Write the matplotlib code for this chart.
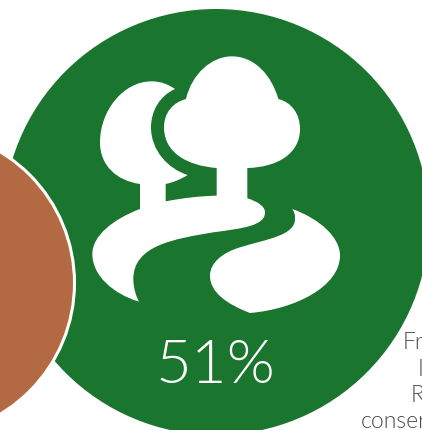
import numpy as np
import matplotlib
matplotlib.use("Agg")
import matplotlib.pyplot as plt
from matplotlib.patches import Circle, PathPatch
from matplotlib.path import Path

share_label = "51%"
side_lines = ["Fr", "I", "R", "conser"]
side_x = [402.5, 418, 410.5, 360.5]
side_y = [349, 376, 402, 428]

green = "#1a752f"
brown = "#b36a43"
grey = "#4a4a4a"

# outlines of the icon, first point then one (c1, c2, end) triple per curve
# a triple with a single point is a straight edge
trees_and_bank = [
    (318, 180),
    [(335, 105), (395, 52), (455, 52)],
    [(525, 52), (575, 110), (595, 180)],
    [(635, 190), (660, 225), (660, 270)],
    [(660, 345), (590, 385), (502, 387)],
    [(502, 478)],
    [(535, 488), (555, 503), (555, 520)],
    [(555, 560), (490, 568), (400, 580)],
    [(280, 600), (160, 620), (160, 720)],
    [(160, 750), (170, 775), (177, 788)],
    [(100, 765), (37, 710), (37, 645)],
    [(37, 590), (100, 540), (180, 510)],
    [(180, 435)],
    [(110, 425), (60, 380), (60, 310)],
    [(60, 215), (130, 127), (215, 127)],
    [(245, 127), (265, 137), (285, 150)],
    [(240, 170), (213, 215), (213, 265)],
    [(213, 335), (265, 390), (323, 408)],
    [(300, 422), (280, 430), (257, 435)],
    [(257, 487)],
    [(310, 477), (360, 471), (410, 470)],
    [(410, 387)],
    [(320, 380), (252, 340), (252, 265)],
    [(252, 220), (280, 190), (318, 180)],
]
far_bank = [
    (637, 510),
    [(720, 540), (780, 595), (780, 650)],
    [(780, 740), (650, 810), (510, 822)],
    [(440, 795), (390, 760), (390, 710)],
    [(390, 670), (430, 640), (480, 625)],
    [(560, 600), (650, 590), (645, 535)],
    [(645, 525), (642, 518), (637, 510)],
]


def icon_path(outline):
    verts = [outline[0]]
    codes = [Path.MOVETO]
    for seg in outline[1:]:
        verts += seg
        codes += [Path.LINETO] if len(seg) == 1 else [Path.CURVE4] * 3
    # icon was drawn at 3x, placed at (80, 40)
    verts = np.array(verts, dtype=float) / 3 + [80, 40]
    return Path(verts, codes)


fig = plt.figure(figsize=(4.22, 4.31), dpi=100)
ax = fig.add_axes([0, 0, 1, 1])
ax.set_xlim(0, 422)
ax.set_ylim(431, 0)
ax.axis("off")

ax.add_patch(Circle((216, 223), 213, fc=green, ec="none"))
ax.add_patch(Circle((-78.5, 284), 153, fc=brown, ec="white", lw=2.2))
ax.add_patch(PathPatch(icon_path(trees_and_bank), fc="white", ec="none"))
ax.add_patch(PathPatch(icon_path(far_bank), fc="white", ec="none"))

ax.text(215.5, 383, share_label, color="white", fontsize=44.5, family="Lato", weight=300,
        ha="center", va="baseline")

# text column that runs off the right edge
for line, x, y in zip(side_lines, side_x, side_y):
    ax.text(x, y, line, color=grey, fontsize=16.5, family="Lato", weight=300, va="baseline")

fig.savefig("out.png", dpi=100)
